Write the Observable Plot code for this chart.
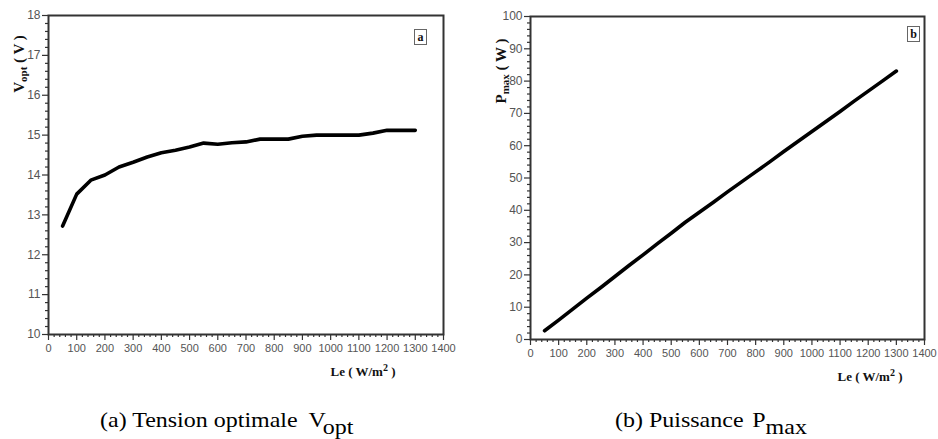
<!DOCTYPE html>
<html>
<head>
<meta charset="utf-8">
<script src="https://cdn.jsdelivr.net/npm/d3@7"></script>
<script src="https://cdn.jsdelivr.net/npm/@observablehq/plot@0.6"></script>
<style>
  html, body { margin: 0; padding: 0; background: #fff; }
  #wrap { position: relative; width: 938px; height: 439px; overflow: hidden; }
  #wrap > svg { position: absolute; top: 0; }
  .lbl { position: absolute; color: #111; white-space: nowrap; line-height: 1; font-weight: bold; }
  .cap { position: absolute; color: #000; white-space: nowrap; font-size: 22px; line-height: 22px; top: 409px;
         transform: scaleX(1.09); transform-origin: 0 0; }
  .cap .sym { margin-left: 10px; }
  .cap .sub { position: relative; top: 7px; }
  .box { position: absolute; width: 11px; height: 14px; border: 1px solid #666; background: #fff;
         font-weight: bold; font-size: 12px; line-height: 14px; text-align: center; color: #111; }
</style>
</head>
<body>
<div id="wrap"></div>
<script>
// ---- data ----
const irradiance = [50, 100, 150, 200, 250, 300, 350, 400, 450, 500, 550, 600, 650,
  700, 750, 800, 850, 900, 950, 1000, 1050, 1100, 1150, 1200, 1250, 1300];
const vOpt = [12.72, 13.52, 13.87, 14.0, 14.2, 14.32, 14.45, 14.56, 14.62, 14.7, 14.8, 14.77, 14.81,
  14.83, 14.9, 14.9, 14.9, 14.97, 15.0, 15.0, 15.0, 15.0, 15.05, 15.12, 15.12, 15.12];
const pMax = [2.7, 6.0, 9.4, 12.8, 16.1, 19.5, 22.9, 26.2, 29.6, 32.9, 36.3, 39.4, 42.5,
  45.7, 48.8, 51.9, 55.0, 58.2, 61.3, 64.4, 67.5, 70.6, 73.8, 76.9, 80.0, 83.1];
const xTicks = [0, 100, 200, 300, 400, 500, 600, 700, 800, 900, 1000, 1100, 1200, 1300, 1400];
const vTicks = [10, 11, 12, 13, 14, 15, 16, 17, 18];
const pTicks = [0, 10, 20, 30, 40, 50, 60, 70, 80, 90, 100];
const xMinorStep = 20, vMinorStep = 0.2, pMinorStep = 2;

const dataV = irradiance.map((x, i) => ({x, y: vOpt[i]}));
const dataP = irradiance.map((x, i) => ({x, y: pMax[i]}));

const wrap = document.getElementById("wrap");
const tickFont = '"Liberation Sans", monospace';
const serifFont = '"Liberation Serif", monospace';

function panel({data, yDomain, yTicks, yMinor, width, height, margins}) {
  const [mt, mr, mb, ml] = margins;
  const xMinor = d3.range(0, 1400 + 1e-9, xMinorStep).filter(v => !xTicks.includes(v));
  const yMinorT = d3.range(yDomain[0], yDomain[1] + 1e-9, yMinor).map(v => +v.toFixed(4)).filter(v => !yTicks.includes(v));
  return Plot.plot({
    width, height,
    marginTop: mt, marginRight: mr, marginBottom: mb, marginLeft: ml,
    style: {fontFamily: tickFont, fontSize: "12px", background: "transparent", overflow: "visible"},
    x: {domain: [0, 1400]},
    y: {domain: yDomain},
    marks: [
      Plot.axisX({ticks: xMinor, tickSize: 3, text: null, stroke: "#333", strokeWidth: 1.2, label: null}),
      Plot.axisX({ticks: xTicks, tickSize: 6, tickPadding: 4, stroke: "#333", strokeWidth: 1.2, fill: "#555", fontSize: 11, tickFormat: d => String(d), label: null}),
      Plot.axisY({ticks: yMinorT, tickSize: 3, text: null, stroke: "#333", strokeWidth: 1.2, label: null}),
      Plot.axisY({ticks: yTicks, tickSize: 6, tickPadding: 2, stroke: "#333", strokeWidth: 1.2, fill: "#555", tickFormat: d => String(d), label: null}),
      Plot.frame({stroke: "#333", strokeWidth: 2}),
      Plot.line(data, {x: "x", y: "y", stroke: "#000", strokeWidth: 3.6, strokeLinejoin: "round", strokeLinecap: "round"})
    ]
  });
}

// ---- left panel ----
const left = panel({data: dataV, yDomain: [10, 18], yTicks: vTicks, yMinor: vMinorStep,
  width: 470, height: 390, margins: [15, 27, 56, 48]});
left.style.left = "0px";
wrap.appendChild(left);

// ---- right panel ----
const right = panel({data: dataP, yDomain: [0, 100], yTicks: pTicks, yMinor: pMinorStep,
  width: 468, height: 390, margins: [16, 13, 51, 61]});
right.style.left = "469px";
wrap.appendChild(right);

// ---- HTML text overlays ----
function el(cls, html, css) {
  const d = document.createElement("div");
  d.className = cls;
  d.innerHTML = html;
  Object.assign(d.style, css);
  d.style.fontFamily = serifFont;
  wrap.appendChild(d);
  return d;
}
// y-axis titles (rotated)
el("lbl", 'V<sub style="font-size:11px;vertical-align:-3px">opt</sub> ( V )',
  {left: "20px", top: "64px", fontSize: "15px", transform: "translate(-50%,-50%) rotate(-90deg)"});
el("lbl", 'P<sub style="font-size:11px;vertical-align:-3px">max</sub> ( W )',
  {left: "502px", top: "71px", fontSize: "15px", transform: "translate(-50%,-50%) rotate(-90deg)"});
// x-axis titles
el("lbl", 'Le ( W/m<sup style="font-size:10px;vertical-align:5px">2</sup> )',
  {left: "363px", top: "370px", fontSize: "13px", transform: "translate(-50%,-50%)"});
el("lbl", 'Le ( W/m<sup style="font-size:10px;vertical-align:5px">2</sup> )',
  {left: "870px", top: "375px", fontSize: "13px", transform: "translate(-50%,-50%)"});
// panel letters
el("box", "a", {left: "414px", top: "29px"});
el("box", "b", {left: "907px", top: "26px"});
// captions
el("cap", '(a) Tension optimale<span class="sym">V</span><span class="sub">opt</span>', {left: "100px"});
el("cap", '(b) Puissance<span class="sym" style="margin-left:8px">P</span><span class="sub">max</span>', {left: "615px"});
</script>
</body>
</html>
